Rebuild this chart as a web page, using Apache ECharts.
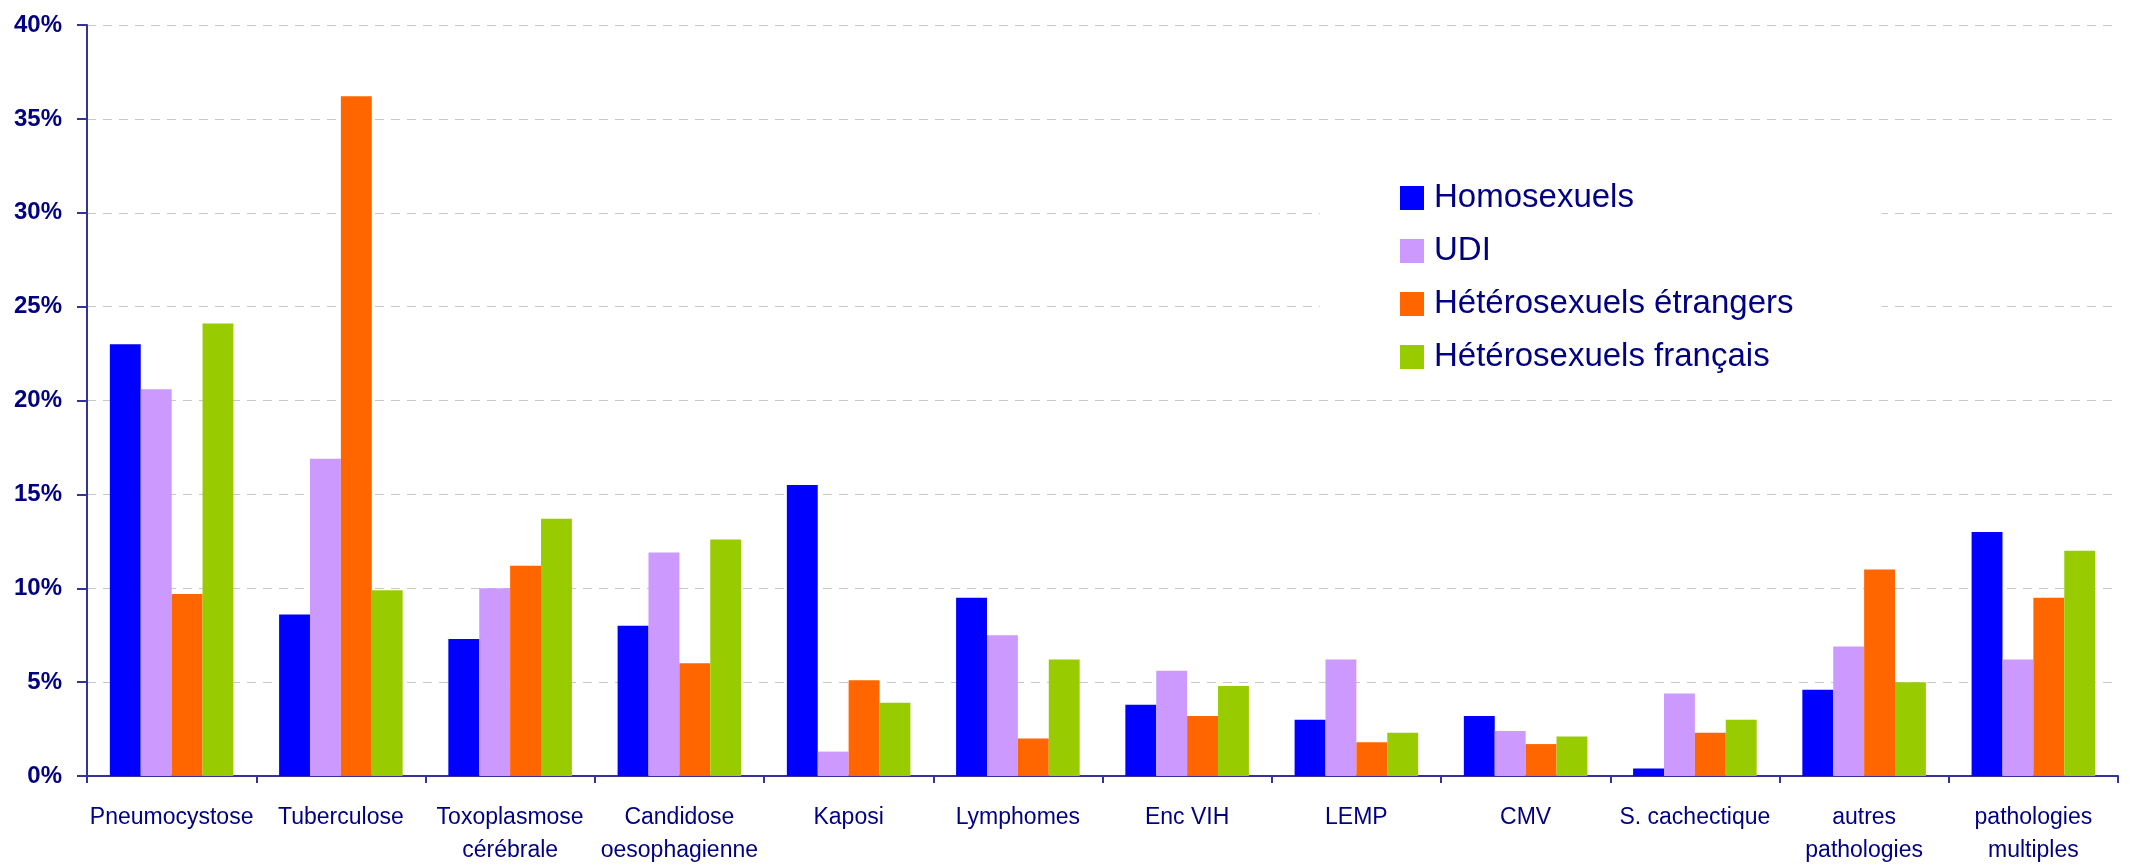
<!DOCTYPE html>
<html>
<head>
<meta charset="utf-8">
<script src="https://cdn.jsdelivr.net/npm/echarts@6/dist/echarts.min.js"></script>
<style>html,body{margin:0;padding:0;background:#fff}#c{width:2130px;height:867px}</style>
</head>
<body>
<div id="c"></div>
<script>
const categories = ['Pneumocystose','Tuberculose','Toxoplasmose\ncérébrale','Candidose\noesophagienne','Kaposi','Lymphomes','Enc VIH','LEMP','CMV','S. cachectique','autres\npathologies','pathologies\nmultiples'];
const seriesNames = ['Homosexuels','UDI','Hétérosexuels étrangers','Hétérosexuels français'];
const homosexuels = [23.0, 8.6, 7.3, 8.0, 15.5, 9.5, 3.8, 3.0, 3.2, 0.4, 4.6, 13.0];
const udi = [20.6, 16.9, 10.0, 11.9, 1.3, 7.5, 5.6, 6.2, 2.4, 4.4, 6.9, 6.2];
const heteroEtrangers = [9.7, 36.2, 11.2, 6.0, 5.1, 2.0, 3.2, 1.8, 1.7, 2.3, 11.0, 9.5];
const heteroFrancais = [24.1, 9.9, 13.7, 12.6, 3.9, 6.2, 4.8, 2.3, 2.1, 3.0, 5.0, 12.0];
const colors = ['#0000FF','#CC99FF','#FF6600','#99CC00'];
const values = [homosexuels, udi, heteroEtrangers, heteroFrancais];

const chart = echarts.init(document.getElementById('c'), null, {renderer:'canvas'});
const navy = '#000080';
chart.setOption({
  animation: false,
  backgroundColor: '#fff',
  grid: {left: 87, right: 12, top: 25, bottom: 90, containLabel: false},
  legend: {
    orient: 'vertical',
    left: 1320, top: 150,
    padding: [30, 88, 15, 80],
    backgroundColor: '#fff',
    itemWidth: 24, itemHeight: 24, itemGap: 17,
    icon: 'rect',
    textStyle: {fontFamily: 'Liberation Sans', fontSize: 33, color: navy, lineHeight: 36, padding: [0,0,0,5]},
    data: seriesNames
  },
  xAxis: {
    type: 'category',
    data: categories,
    axisLine: {lineStyle: {color: '#333399', width: 2}},
    axisTick: {show: true, length: 7, lineStyle: {color: '#333399', width: 2}},
    axisLabel: {fontFamily: 'Liberation Sans', fontSize: 23, color: navy, margin: 25, lineHeight: 33, interval: 0}
  },
  yAxis: {
    type: 'value', min: 0, max: 40, interval: 5,
    axisLine: {show: true, lineStyle: {color: '#333399', width: 2}},
    axisTick: {show: true, length: 10, lineStyle: {color: '#333399', width: 2}},
    axisLabel: {fontFamily: 'Liberation Sans', fontSize: 24, fontWeight: 'bold', color: navy, margin: 25, formatter: '{value}%'},
    splitLine: {show: true, lineStyle: {color: '#c8c8c8', type: [9, 7], width: 1}}
  },
  series: values.map((v, i) => ({
    name: seriesNames[i], type: 'bar', data: v,
    itemStyle: {color: colors[i]},
    barGap: '0%', barCategoryGap: '27%'
  }))
});
</script>
</body>
</html>
